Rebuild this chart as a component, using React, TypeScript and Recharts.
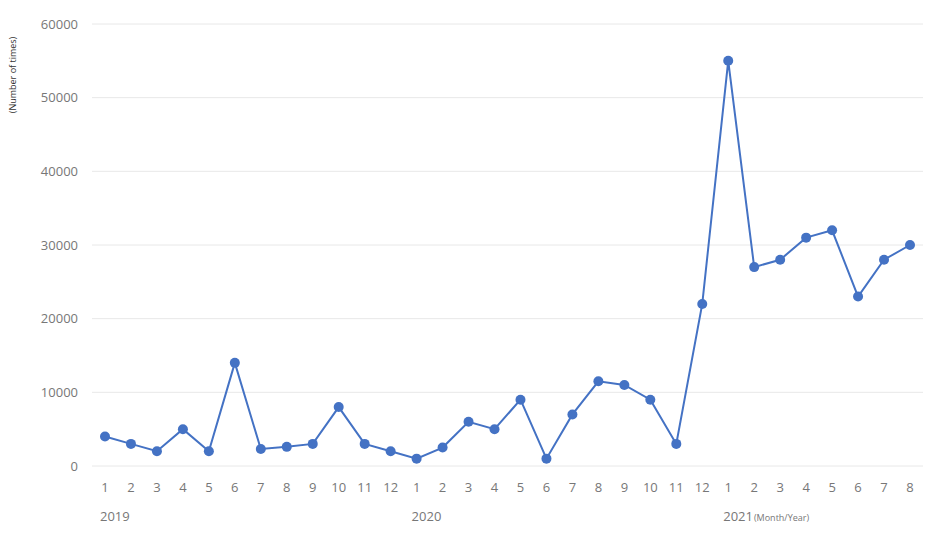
import { CartesianGrid, Line, LineChart, XAxis, YAxis } from "recharts";

const monthLabels = [
  "1", "2", "3", "4", "5", "6", "7", "8", "9", "10", "11", "12",
  "1", "2", "3", "4", "5", "6", "7", "8", "9", "10", "11", "12",
  "1", "2", "3", "4", "5", "6", "7", "8",
];

const yearLabels = [
  "2019", "", "", "", "", "", "", "", "", "", "", "",
  "2020", "", "", "", "", "", "", "", "", "", "", "",
  "2021", "", "", "", "", "", "", "",
];

const counts = [
  4000, 3000, 2000, 5000, 2000, 14000, 2300, 2600, 3000, 8000, 3000, 2000,
  1000, 2500, 6000, 5000, 9000, 1000, 7000, 11500, 11000, 9000, 3000, 22000,
  55000, 27000, 28000, 31000, 32000, 23000, 28000, 30000,
];

const yTicks = [0, 10000, 20000, 30000, 40000, 50000, 60000];

const data = monthLabels.map((month, i) => ({
  key: i,
  month,
  year: yearLabels[i],
  count: counts[i],
}));

const FONT = "'Open Sans', 'Noto Sans', sans-serif";
const BLUE = "#4472c4";

function MonthTick(props: any) {
  const { x, y, payload } = props;
  const row = data[payload.value];
  return (
    <g>
      <text
        x={x}
        y={y + 18}
        textAnchor="middle"
        fontSize={13}
        fill="#777"
        fontFamily={FONT}
      >
        {row.month}
      </text>
      {row.year && (
        <text x={x - 5} y={y + 47} fontSize={13} fill="#777" fontFamily={FONT}>
          {row.year}
          {row.year === "2021" && (
            <tspan fontSize={9} dx={1}>
              (Month/Year)
            </tspan>
          )}
        </text>
      )}
    </g>
  );
}

export default function App() {
  return (
    <div style={{ position: "absolute", left: 0, top: 0, background: "#fff" }}>
      <LineChart
        width={940}
        height={536}
        data={data}
        margin={{ top: 24, right: 17, left: 12, bottom: 0 }}
      >
        <CartesianGrid vertical={false} stroke="#e8e8e8" />
        <XAxis
          dataKey="key"
          type="category"
          height={70}
          axisLine={false}
          tickLine={false}
          interval={0}
          padding={{ left: 13, right: 13 }}
          tick={<MonthTick />}
        />
        <YAxis
          width={80}
          domain={[0, 60000]}
          ticks={yTicks}
          axisLine={false}
          tickLine={false}
          tickMargin={8}
          tick={{ fontSize: 13, fill: "#777", fontFamily: FONT }}
          label={{
            content: () => (
              <text
                x={0}
                y={0}
                transform="translate(16,75) rotate(-90)"
                textAnchor="middle"
                fontSize={9}
                fill="#333"
                fontFamily={FONT}
              >
                (Number of times)
              </text>
            ),
          }}
        />
        <Line
          type="linear"
          dataKey="count"
          stroke={BLUE}
          strokeWidth={2}
          dot={{ r: 5, fill: BLUE, stroke: BLUE, strokeWidth: 0 }}
          activeDot={false}
          isAnimationActive={false}
        />
      </LineChart>
    </div>
  );
}
